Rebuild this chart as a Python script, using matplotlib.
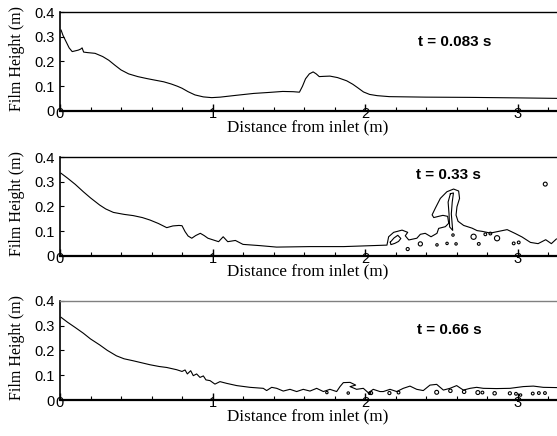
import numpy as np
import matplotlib.pyplot as plt

# ===== Film surface profiles (x in m, height in m) =====
# t = 0.083 s
x_083 = [0.007, 0.02, 0.04, 0.06, 0.08, 0.10, 0.12, 0.135, 0.145, 0.155, 0.18, 0.23,
         0.28, 0.32, 0.36, 0.40, 0.45, 0.51, 0.57, 0.62, 0.68, 0.73, 0.77, 0.80, 0.84,
         0.885, 0.94, 0.995, 1.05, 1.15, 1.27, 1.37, 1.46, 1.53, 1.57, 1.59, 1.61,
         1.635, 1.66, 1.68, 1.70, 1.73, 1.77, 1.82, 1.88, 1.92, 1.95, 1.99, 2.03,
         2.08, 2.16, 2.40, 2.69, 3.00, 3.26]
h_083 = [0.327, 0.305, 0.280, 0.255, 0.240, 0.243, 0.246, 0.250, 0.255, 0.238, 0.236,
         0.233, 0.220, 0.205, 0.185, 0.166, 0.150, 0.139, 0.131, 0.125, 0.118, 0.109,
         0.100, 0.092, 0.078, 0.065, 0.057, 0.054, 0.056, 0.063, 0.071, 0.075, 0.079,
         0.078, 0.076, 0.100, 0.130, 0.150, 0.158, 0.150, 0.139, 0.140, 0.141, 0.135,
         0.122, 0.108, 0.095, 0.077, 0.067, 0.062, 0.058, 0.056, 0.055, 0.053, 0.051]

# t = 0.33 s (main surface, incl. the plume)
x_033 = [0.007, 0.05, 0.10, 0.153, 0.20, 0.26, 0.30, 0.35, 0.42, 0.48, 0.54, 0.59,
         0.645, 0.70, 0.74, 0.78, 0.80, 0.82, 0.84, 0.864, 0.89, 0.92, 0.945, 0.97,
         1.04, 1.07, 1.10, 1.15, 1.20, 1.31, 1.42, 1.64, 1.86, 2.144,
         2.155, 2.188, 2.243, 2.28, 2.264, 2.287, 2.34, 2.363, 2.395, 2.433, 2.472,
         2.483, 2.527, 2.549, 2.542, 2.511, 2.483, 2.451, 2.440, 2.461, 2.494, 2.537,
         2.581, 2.614, 2.620, 2.603, 2.597, 2.610, 2.647, 2.702, 2.735, 2.768, 2.822,
         2.877, 2.932, 2.986, 3.030, 3.085, 3.135, 3.185, 3.222, 3.255]
h_033 = [0.335, 0.315, 0.290, 0.260, 0.235, 0.206, 0.190, 0.176, 0.168, 0.163, 0.155,
         0.145, 0.131, 0.114, 0.121, 0.123, 0.122, 0.098, 0.080, 0.071, 0.082, 0.091,
         0.082, 0.071, 0.057, 0.077, 0.057, 0.062, 0.046, 0.041, 0.035, 0.037,
         0.037, 0.043, 0.077, 0.095, 0.104, 0.095, 0.081, 0.064, 0.071, 0.087, 0.091,
         0.077, 0.091, 0.111, 0.118, 0.132, 0.160, 0.164, 0.160, 0.155, 0.166, 0.193,
         0.233, 0.260, 0.271, 0.263, 0.233, 0.199, 0.165, 0.140, 0.123, 0.112, 0.102,
         0.099, 0.092, 0.099, 0.106, 0.090, 0.076, 0.054, 0.049, 0.065, 0.049, 0.068]

# inner loop of the plume
x_plume = [2.560, 2.580, 2.572, 2.566, 2.575, 2.555, 2.551, 2.545, 2.560]
h_plume = [0.252, 0.255, 0.218, 0.170, 0.103, 0.117, 0.170, 0.218, 0.252]

# ligament blobs around x = 2.2 - 2.3
x_blob = [2.166, 2.190, 2.215, 2.235, 2.220, 2.195, 2.170, 2.166]
h_blob = [0.055, 0.072, 0.083, 0.070, 0.058, 0.050, 0.045, 0.055]

# t = 0.66 s
x_066 = [0.007, 0.05, 0.10, 0.153, 0.20, 0.26, 0.31, 0.37, 0.42, 0.48, 0.59, 0.65,
         0.70, 0.765, 0.80, 0.82, 0.835, 0.857,
         0.874, 0.896, 0.918, 0.94, 0.957, 0.984, 1.016, 1.049, 1.093, 1.159, 1.246,
         1.333, 1.355, 1.388, 1.421, 1.464, 1.508, 1.552, 1.595, 1.639, 1.683, 1.727,
         1.770, 1.814, 1.836, 1.858, 1.902, 1.939, 1.902, 1.945, 1.989, 2.022, 2.054,
         2.098, 2.120, 2.164, 2.208, 2.251, 2.295, 2.339, 2.382, 2.426, 2.470, 2.514,
         2.557, 2.601, 2.645, 2.689, 2.732, 2.776, 2.863, 2.951, 3.038, 3.104, 3.169, 3.257]
h_066 = [0.333, 0.313, 0.292, 0.269, 0.246, 0.222, 0.200, 0.178, 0.166, 0.158, 0.142,
         0.135, 0.131, 0.122, 0.115, 0.121, 0.105,
         0.118, 0.098, 0.105, 0.091, 0.097, 0.081, 0.078, 0.064, 0.074, 0.067, 0.058,
         0.051, 0.047, 0.038, 0.051, 0.047, 0.036, 0.043, 0.034, 0.043, 0.036, 0.047,
         0.034, 0.043, 0.034, 0.054, 0.070, 0.071, 0.060, 0.054, 0.043, 0.047, 0.029,
         0.043, 0.034, 0.034, 0.043, 0.034, 0.047, 0.056, 0.043, 0.038, 0.060, 0.063,
         0.040, 0.047, 0.058, 0.040, 0.047, 0.051, 0.047, 0.046, 0.047, 0.054, 0.056,
         0.051, 0.050]

# detached droplets
drop_x_033 = [2.280, 2.363, 2.472, 2.538, 2.597, 2.577, 2.746, 2.789, 2.822, 2.975,
              3.008, 3.182, 2.712, 2.866]
drop_h_033 = [0.027, 0.048, 0.044, 0.050, 0.048, 0.084, 0.048, 0.087, 0.090, 0.050,
              0.054, 0.291, 0.077, 0.071]
drop_s_033 = [5, 9, 3, 3, 3, 3, 4, 4, 4, 4, 4, 8, 14, 14]

drop_x_066 = [1.75, 1.89, 2.03, 2.04, 2.16, 2.22, 2.47, 2.56, 2.65, 2.74, 2.77, 2.85,
              2.95, 2.99, 3.02, 3.10, 3.14, 3.18]
drop_h_066 = [0.030, 0.028, 0.027, 0.028, 0.028, 0.030, 0.031, 0.037, 0.033, 0.030,
              0.030, 0.027, 0.027, 0.025, 0.020, 0.026, 0.028, 0.028]
drop_s_066 = [3, 3, 3, 5, 5, 4, 8, 6, 6, 8, 4, 6, 5, 4, 3, 4, 4, 4]

times = ['t = 0.083 s', 't = 0.33 s', 't = 0.66 s']
time_pos = [(2.59, 0.277), (2.55, 0.33), (2.555, 0.28)]

x_ticks = [0, 1, 2, 3]
y_ticks = [0, 0.1, 0.2, 0.3, 0.4]

# -------- figure layout (pixels of the 557x436 reference) --------
W, H = 557, 436
fig = plt.figure(figsize=(W / 100, H / 100), dpi=100)
px_per_m = 152.5
xmax = 3.3
panels = [(12, 111), (157.3, 255.7), (300.7, 400)]   # (top, bottom) pixel rows

axes = []
for top, bot in panels:
    ax = fig.add_axes([60 / W, 1 - bot / H, xmax * px_per_m / W, (bot - top) / H])
    axes.append(ax)

sans = 'Liberation Sans'
serif = 'Liberation Serif'

profiles = [(x_083, h_083), (x_033, h_033), (x_066, h_066)]
for i, ax in enumerate(axes):
    x, h = profiles[i]
    ax.plot(x, h, color='black', lw=0.8)

    ax.set_xlim(0, xmax)
    ax.set_ylim(0, 0.4)
    ax.set_xticks(x_ticks)
    ax.set_xticks(np.arange(0, 3.3, 0.2), minor=True)
    ax.set_yticks(y_ticks)
    ax.set_yticklabels(['0', '0.1', '0.2', '0.3', '0.4'])
    ax.tick_params(axis='both', which='both', direction='in', labelsize=10.5,
                   top=False, right=False)
    ax.tick_params(axis='x', which='major', length=5, width=1, pad=-3)
    ax.tick_params(axis='x', which='minor', length=3, width=0.8)
    ax.tick_params(axis='y', which='major', length=3, width=0.8, pad=4)
    for lab in ax.get_xticklabels() + ax.get_yticklabels():
        lab.set_family(sans)

    ax.spines['right'].set_visible(False)
    ax.spines['bottom'].set_linewidth(1.6)
    ax.spines['left'].set_linewidth(1.2)
    ax.spines['top'].set_linewidth(1.0)

    ax.set_xlabel('Distance from inlet (m)', family=serif, fontsize=12.3)
    ax.xaxis.set_label_coords(0.492, -0.08)
    ax.set_ylabel('Film Height (m)', family=serif, fontsize=11.5)
    ax.yaxis.set_label_coords(-0.07, 0.53)

    tx, ty = time_pos[i]
    ax.text(tx, ty, times[i], family=sans, fontsize=11, fontweight='bold',
            ha='center', va='center')

axes[2].spines['top'].set_color('#808080')

# panel 2 extras: plume core, ligament and droplets
axes[1].plot(x_plume, h_plume, color='black', lw=0.8)
axes[1].plot(x_blob, h_blob, color='black', lw=0.8)
axes[1].scatter(drop_x_033, drop_h_033, s=drop_s_033, facecolors='none',
                edgecolors='black', linewidths=0.8)
axes[2].scatter(drop_x_066, drop_h_066, s=drop_s_066, facecolors='none',
                edgecolors='black', linewidths=0.8)

fig.savefig('out.png', dpi=100)
